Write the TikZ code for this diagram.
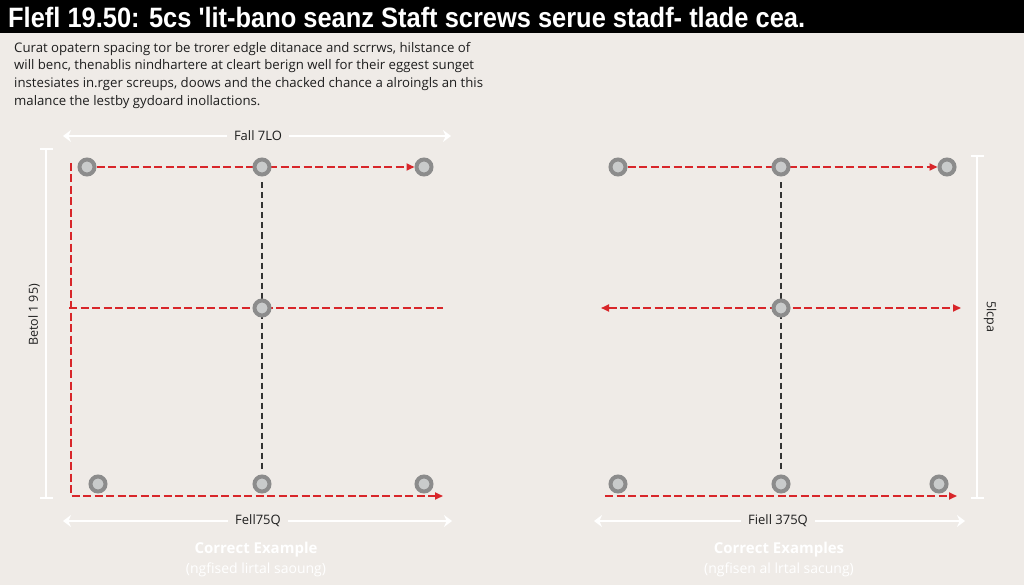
\documentclass[tikz,border=0pt]{standalone}
\usepackage{fontspec}
\setmainfont{Open Sans}
\newfontfamily\titlefont{Liberation Sans}
\usetikzlibrary{arrows.meta}
\pgfdeclarelayer{bglayer}
\pgfdeclarelayer{linelayer}
\pgfsetlayers{bglayer,linelayer,main}
\definecolor{bgc}{HTML}{EFEBE7}
\definecolor{redc}{HTML}{D8262A}
\definecolor{screwout}{HTML}{8C8C8C}
\definecolor{screwin}{HTML}{C9CBCB}
\definecolor{txtc}{HTML}{1E1E1E}
\definecolor{blkdash}{HTML}{333333}
\tikzset{
  screw/.style={circle, minimum size=15pt, inner sep=0pt, line width=4pt, draw=screwout, fill=screwin},
  reddash/.style={draw=redc, line width=1.8pt, dash pattern=on 8pt off 3.5pt},
  redtip/.style={-{Triangle[length=8pt,width=7pt]}},
  redtips/.style={{Triangle[length=8pt,width=7pt]}-{Triangle[length=8pt,width=7pt]}},
  blackdash/.style={draw=blkdash, line width=1.3pt, dash pattern=on 6pt off 4pt},
  dimline/.style={draw=white, line width=2pt},
  dimarrows/.style={{Stealth[length=8pt,width=12pt]}-{Stealth[length=8pt,width=12pt]}},
  dimbars/.style={{Bar[width=13pt]}-{Bar[width=13pt]}},
  dimlabel/.style={fill=bgc, inner xsep=7pt, inner ysep=2pt, text=txtc, font=\fontsize{13}{15}\selectfont},
  sidelabel/.style={inner sep=0pt, text=txtc, font=\fontsize{12.5}{14}\selectfont},
  captitle/.style={text=white, font=\fontsize{15}{17}\selectfont\bfseries},
  capsub/.style={text=white, font=\fontsize{14}{16}\selectfont},
}
\begin{document}
\begin{tikzpicture}[x=1pt,y=-1pt]
\useasboundingbox (0,0) rectangle (1024,585);
\begin{pgfonlayer}{bglayer}
  \fill[bgc] (0,0) rectangle (1024,585);
  \fill[black] (0,0) rectangle (1024,33);
\end{pgfonlayer}

% title
\node[anchor=west, inner sep=0pt, text=white] (title) at (8,17)
  {\resizebox{797pt}{\height}{\titlefont\fontsize{28}{30}\selectfont\bfseries Flefl 19.50: 5cs 'lit-bano seanz Staft screws serue stadf- tlade cea.}};

% paragraph
\node[anchor=north west, inner sep=0pt, align=left, text=txtc,
      font=\fontsize{13.2}{17.7}\selectfont] (para) at (14,42)
  {Curat opatern spacing tor be trorer edgle ditanace and scrrws, hilstance of\\
   will benc, thenablis nindhartere at cleart berign well for their eggest sunget\\
   instesiates in.rger screups, doows and the chacked chance a alroingls an this\\
   malance the lestby gydoard inollactions.};

% ---------- left example ----------
\node[screw] (L1) at (87,167) {};
\node[screw] (L2) at (262,167) {};
\node[screw] (L3) at (424,167) {};
\node[screw] (L4) at (262,308) {};
\node[screw] (L5) at (98,484) {};
\node[screw] (L6) at (262,484) {};
\node[screw] (L7) at (424,484) {};

\coordinate (lA) at (71,163);
\coordinate (lB) at (71,496);
\coordinate (lC) at (443,496);
\coordinate (lM1) at (69,308);
\coordinate (lM2) at (443,308);

\coordinate (dLT1) at (63,136);
\coordinate (dLT2) at (451,136);
\coordinate (dLB1) at (63,521);
\coordinate (dLB2) at (452,521);
\coordinate (dLV1) at (46,148);
\coordinate (dLV2) at (46,499);

% ---------- right example ----------
\node[screw] (R1) at (618,167) {};
\node[screw] (R2) at (781,167) {};
\node[screw] (R3) at (947,167) {};
\node[screw] (R4) at (781,308) {};
\node[screw] (R5) at (618,484) {};
\node[screw] (R6) at (781,484) {};
\node[screw] (R7) at (939,484) {};

\coordinate (rM1) at (601,308);
\coordinate (rM2) at (961,308);
\coordinate (rB1) at (605,496);
\coordinate (rB2) at (957,496);

\coordinate (dRB1) at (594,521);
\coordinate (dRB2) at (965,521);
\coordinate (dRV1) at (977,155);
\coordinate (dRV2) at (977,499);

\begin{pgfonlayer}{linelayer}
  % left
  \draw[reddash, redtip] (L1) -- (L3);
  \draw[reddash, redtip] (lA) -- (lB) -- (lC);
  \draw[reddash] (lM1) -- (lM2);
  \draw[blackdash, shorten <=6pt, shorten >=3pt] (L2) -- (L6);
  \draw[dimline, dimarrows] (dLT1) -- (dLT2);
  \draw[dimline, dimarrows] (dLB1) -- (dLB2);
  \draw[dimline, dimbars] (dLV1) -- (dLV2);
  % right
  \draw[reddash, redtip] (R1) -- (R3);
  \draw[reddash, redtips] (rM1) -- (rM2);
  \draw[reddash, redtip] (rB1) -- (rB2);
  \draw[blackdash, shorten <=6pt, shorten >=3pt] (R2) -- (R6);
  \draw[dimline, dimarrows] (dRB1) -- (dRB2);
  \draw[dimline, dimbars] (dRV1) -- (dRV2);
\end{pgfonlayer}

% dimension labels
\node[dimlabel] (lblLT) at (258,136) {Fall 7LO};
\node[dimlabel] (lblLB) at (258,521) {Fell75Q};
\node[sidelabel, rotate=90] (lblLV) at (34,315) {Betol 1 95)};
\node[dimlabel] (lblRB) at (778,521) {Fiell 375Q};
\node[sidelabel, rotate=-90] (lblRV) at (990,317) {5lcpa};

% captions
\node[captitle] (capL) at (256,550) {Correct Example};
\node[capsub] (subL) at (256,570) {(ngfised lirtal saoung)};
\node[captitle] (capR) at (779,550) {Correct Examples};
\node[capsub] (subR) at (779,570) {(ngfisen al lrtal sacung)};
\end{tikzpicture}
\end{document}
